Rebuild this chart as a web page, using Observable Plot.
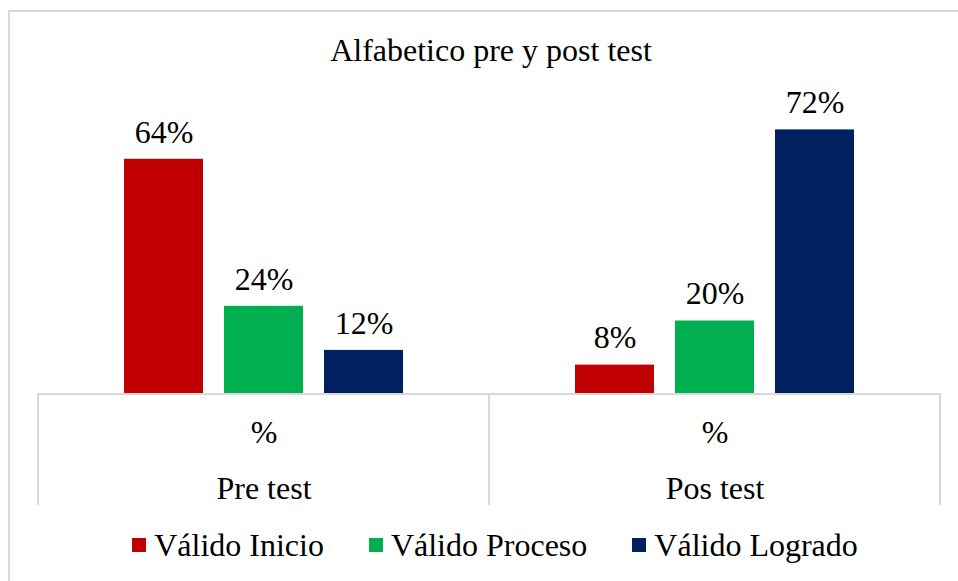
<!DOCTYPE html>
<html>
<head>
<meta charset="utf-8">
<script src="https://cdn.jsdelivr.net/npm/d3@7"></script>
<script src="https://cdn.jsdelivr.net/npm/@observablehq/plot@0.6"></script>
<style>
  html, body { margin: 0; padding: 0; background: #fff; }
  #wrap { position: relative; width: 958px; height: 581px; overflow: hidden; background: #fff; font-family: "Liberation Serif", "Times New Roman", serif; color: #000; }
  #frame { position: absolute; left: 8px; top: 10px; width: 1000px; height: 700px; border: 2px solid #d9d9d9; box-sizing: border-box; }
  #title { position: absolute; left: 0; top: 30px; width: 982px; text-align: center; font-size: 32px; line-height: 40px; }
  #chart { position: absolute; left: 0; top: 80px; }
  #legend { position: absolute; left: 16px; top: 525px; width: 958px; display: flex; justify-content: center; align-items: center; font-size: 32px; line-height: 40px; }
  .item { display: flex; align-items: center; margin: 0 22.5px; }
  .sw { width: 14px; height: 14px; margin-right: 8px; }
</style>
</head>
<body>
<div id="wrap">
  <div id="frame"></div>
  <div id="title">Alfabetico pre y post test</div>
  <div id="chart"></div>
  <div id="legend"></div>
</div>
<script>
const title = "Alfabetico pre y post test";
const groups = ["Pre test", "Pos test"];
const subLabel = "%";
const series = ["Válido Inicio", "Válido Proceso", "Válido Logrado"];
const preValues = [64, 24, 12];
const posValues = [8, 20, 72];
const colors = ["#C00000", "#00B050", "#002060"];

const valuesByGroup = { "Pre test": preValues, "Pos test": posValues };
const data = [];
groups.forEach(g => series.forEach((s, i) => data.push({ group: g, series: s, value: valuesByGroup[g][i] })));

const font = "Liberation Serif";
const gray = "#d9d9d9";
const fs = 32;

const chart = Plot.plot({
  width: 958,
  height: 425,
  marginLeft: 38,
  marginRight: 18,
  marginTop: 20,
  marginBottom: 111,
  style: { fontFamily: font, overflow: "hidden", background: "transparent", color: "#000" },
  fx: { domain: groups, padding: 0, axis: null },
  x: { domain: series, paddingInner: 0.21, paddingOuter: 0.84, axis: null },
  y: { domain: [0, 80], axis: null },
  color: { domain: series, range: colors },
  marks: [
    Plot.barY(data, { fx: "group", x: "series", y: "value", fill: "series" }),
    Plot.text(data, { fx: "group", x: "series", y: "value", text: d => d.value + "%", dy: -27, lineAnchor: "middle", fontSize: fs, fill: "#000" }),
    Plot.rect(groups, { fx: d => d, y1: 0, y2: -40, fill: "none", stroke: gray, strokeWidth: 2 }),
    Plot.text(groups, { fx: d => d, text: () => subLabel, frameAnchor: "bottom", dy: 38, lineAnchor: "middle", fontSize: fs, fill: "#000" }),
    Plot.text(groups, { fx: d => d, text: d => d, frameAnchor: "bottom", dy: 94, lineAnchor: "middle", fontSize: fs, fill: "#000" })
  ]
});
document.getElementById("chart").appendChild(chart);

const legend = document.getElementById("legend");
series.forEach((s, i) => {
  const item = document.createElement("div");
  item.className = "item";
  const sw = document.createElement("span");
  sw.className = "sw";
  sw.style.background = colors[i];
  const t = document.createElement("span");
  t.textContent = s;
  item.appendChild(sw);
  item.appendChild(t);
  legend.appendChild(item);
});
</script>
</body>
</html>
